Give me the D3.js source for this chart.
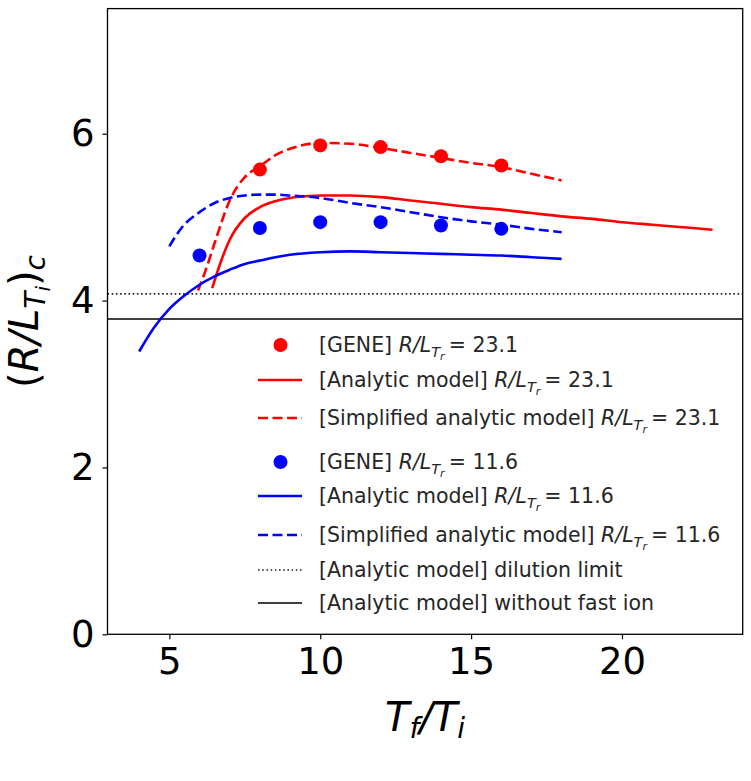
<!DOCTYPE html>
<html>
<head>
<meta charset="utf-8">
<script src="https://cdn.jsdelivr.net/npm/d3@7"></script>
<style>
  body { margin: 0; background: #fff; }
  svg { font-family: "DejaVu Sans", sans-serif; }
</style>
</head>
<body>
<div id="chart"></div>
<script>
// ---- data ----
const geneX = [6, 8, 10, 12, 14, 16];
const gene231 = [null, 5.57, 5.86, 5.84, 5.73, 5.62];
const gene116 = [4.54, 4.87, 4.94, 4.94, 4.90, 4.86];

const anaX231 = [6.42, 6.7, 7, 7.5, 8, 8.5, 9, 9.5, 10, 11, 12, 13, 14, 15, 16, 17, 18, 19, 20, 21, 22, 23];
const anaY231 = [4.15, 4.46, 4.73, 4.99, 5.12, 5.19, 5.23, 5.25, 5.26, 5.26, 5.24, 5.20, 5.16, 5.12, 5.09, 5.05, 5.01, 4.98, 4.94, 4.91, 4.88, 4.85];

const simX231 = [5.95, 6.2, 6.5, 7, 7.5, 8, 8.5, 9, 9.5, 10, 11, 12, 13, 14, 15, 16, 17, 18];
const simY231 = [4.12, 4.36, 4.69, 5.20, 5.48, 5.61, 5.74, 5.82, 5.87, 5.89, 5.88, 5.83, 5.77, 5.71, 5.65, 5.60, 5.52, 5.44];

const anaX116 = [4, 4.5, 5, 5.5, 6, 6.5, 7, 7.5, 8, 9, 10, 11, 12, 13, 14, 15, 16, 17, 18];
const anaY116 = [3.39, 3.68, 3.90, 4.06, 4.19, 4.29, 4.37, 4.44, 4.48, 4.55, 4.58, 4.59, 4.58, 4.57, 4.56, 4.55, 4.54, 4.52, 4.50];

const simX116 = [5, 5.4, 6, 6.5, 7, 7.5, 8, 8.5, 9, 10, 11, 12, 13, 14, 15, 16, 17, 18];
const simY116 = [4.65, 4.87, 5.06, 5.17, 5.23, 5.26, 5.27, 5.27, 5.26, 5.23, 5.17, 5.12, 5.06, 5.00, 4.95, 4.91, 4.86, 4.82];

const dilutionLimit = 4.08;
const noFastIon = 3.78;

const xTicks = [5, 10, 15, 20];
const yTicks = [0, 2, 4, 6];

// ---- layout ----
const width = 751;
const height = 781;
const LEFT = 107.5, RIGHT = 742.7, TOP = 8.6, BOTTOM = 634.3;

const RED = "#ff0000";
const BLUE = "#0000ff";
const LINE_W = 2.6;
const DASH = "10,4.5";
const LEG_FS = 20.5;

const svg = d3.select("#chart").append("svg")
  .attr("width", width)
  .attr("height", height);

const x = d3.scaleLinear().domain([2.95, 24.0]).range([LEFT, RIGHT]);
const y = d3.scaleLinear().domain([0, 7.5]).range([BOTTOM, TOP]);

const line = d3.line()
  .x(d => x(d[0]))
  .y(d => y(d[1]))
  .curve(d3.curveMonotoneX);

const zip = (xs, ys) => xs.map((v, i) => [v, ys[i]]).filter(d => d[1] != null);

const plot = svg.append("g");

// horizontal reference lines
plot.append("line")
  .attr("x1", LEFT).attr("x2", RIGHT)
  .attr("y1", y(dilutionLimit)).attr("y2", y(dilutionLimit))
  .attr("stroke", "#222").attr("stroke-width", 1.6)
  .attr("stroke-dasharray", "1.6,2.6");

plot.append("line")
  .attr("x1", LEFT).attr("x2", RIGHT)
  .attr("y1", y(noFastIon)).attr("y2", y(noFastIon))
  .attr("stroke", "#000").attr("stroke-width", 1.6);

// model curves
const curves = [
  { xs: anaX231, ys: anaY231, color: RED, dash: null },
  { xs: simX231, ys: simY231, color: RED, dash: DASH },
  { xs: anaX116, ys: anaY116, color: BLUE, dash: null },
  { xs: simX116, ys: simY116, color: BLUE, dash: DASH }
];

curves.forEach(c => {
  plot.append("path")
    .attr("d", line(zip(c.xs, c.ys)))
    .attr("fill", "none")
    .attr("stroke", c.color)
    .attr("stroke-width", LINE_W)
    .attr("stroke-dasharray", c.dash);
});

// GENE points
[[gene231, RED], [gene116, BLUE]].forEach(([vals, color]) => {
  plot.append("g")
    .selectAll("circle")
    .data(zip(geneX, vals))
    .enter()
    .append("circle")
    .attr("cx", d => x(d[0]))
    .attr("cy", d => y(d[1]))
    .attr("r", 7)
    .attr("fill", color);
});

// axes
const xAxis = svg.append("g")
  .attr("transform", `translate(0,${BOTTOM})`)
  .call(d3.axisBottom(x).tickValues(xTicks).tickSize(5).tickPadding(8).tickFormat(d3.format("d")));
const yAxis = svg.append("g")
  .attr("transform", `translate(${LEFT},0)`)
  .call(d3.axisLeft(y).tickValues(yTicks).tickSize(5).tickPadding(8).tickFormat(d3.format("d")));

[xAxis, yAxis].forEach(a => {
  a.select(".domain").remove();
  a.selectAll(".tick line").attr("stroke", "#000").attr("stroke-width", 1.2);
  a.selectAll(".tick text")
    .attr("fill", "#000")
    .style("font-family", "DejaVu Sans")
    .style("font-size", "37px");
});

// frame
svg.append("rect")
  .attr("x", LEFT).attr("y", TOP)
  .attr("width", RIGHT - LEFT).attr("height", BOTTOM - TOP)
  .attr("fill", "none").attr("stroke", "#000").attr("stroke-width", 1.3);

// math-like text helper: segments of {t, it, dy, fs}
function mathText(sel, segs, baseSize) {
  segs.forEach(s => {
    sel.append("tspan")
      .attr("dy", s.dy || 0)
      .style("font-style", s.it ? "italic" : "normal")
      .style("font-size", (s.fs || baseSize) + "px")
      .text(s.t);
  });
}

// axis labels
const xl = svg.append("text")
  .attr("x", (LEFT + RIGHT) / 2)
  .attr("y", 731)
  .attr("text-anchor", "middle")
  .attr("fill", "#000");
mathText(xl, [
  { t: "T", it: true },
  { t: "f", it: true, fs: 28, dy: 7 },
  { t: "/", it: true, dy: -7 },
  { t: "T", it: true },
  { t: "i", it: true, fs: 28, dy: 7 }
], 40);

const yl = svg.append("text")
  .attr("transform", `translate(38,${(TOP + BOTTOM) / 2}) rotate(-90)`)
  .attr("text-anchor", "middle")
  .attr("fill", "#000");
mathText(yl, [
  { t: "(" },
  { t: "R", it: true },
  { t: "/", it: true },
  { t: "L", it: true },
  { t: "T", it: true, fs: 28, dy: 7 },
  { t: "i", it: true, fs: 20, dy: 5 },
  { t: ")", dy: -12 },
  { t: "c", it: true, fs: 28, dy: 7 }
], 40);

// legend
const legendRows = [
  { kind: "dot", color: RED, label: "[GENE] ", value: "23.1", y: 345 },
  { kind: "line", color: RED, dash: null, label: "[Analytic model] ", value: "23.1", y: 380 },
  { kind: "line", color: RED, dash: DASH, label: "[Simplified analytic model] ", value: "23.1", y: 418 },
  { kind: "dot", color: BLUE, label: "[GENE] ", value: "11.6", y: 462 },
  { kind: "line", color: BLUE, dash: null, label: "[Analytic model] ", value: "11.6", y: 496 },
  { kind: "line", color: BLUE, dash: DASH, label: "[Simplified analytic model] ", value: "11.6", y: 535 },
  { kind: "line", color: "#222", dash: "1.6,2.6", width: 1.4, label: "[Analytic model] dilution limit", value: null, y: 570 },
  { kind: "line", color: "#000", dash: null, width: 1.6, label: "[Analytic model] without fast ion", value: null, y: 603 }
];

const legend = svg.append("g");
legendRows.forEach(r => {
  if (r.kind === "dot") {
    legend.append("circle")
      .attr("cx", 280.5).attr("cy", r.y).attr("r", 7).attr("fill", r.color);
  } else {
    legend.append("line")
      .attr("x1", 258).attr("x2", 302)
      .attr("y1", r.y).attr("y2", r.y)
      .attr("stroke", r.color)
      .attr("stroke-width", r.width || LINE_W)
      .attr("stroke-dasharray", r.dash);
  }
  const t = legend.append("text")
    .attr("x", 319)
    .attr("y", r.y + 7)
    .attr("fill", "#262626");
  if (r.value) {
    mathText(t, [
      { t: r.label },
      { t: "R", it: true },
      { t: "/", it: true },
      { t: "L", it: true },
      { t: "T", it: true, fs: 14.5, dy: 4.5 },
      { t: "r", it: true, fs: 11, dy: 3 },
      { t: "\u2009= " + r.value, dy: -7.5 }
    ], LEG_FS);
  } else {
    mathText(t, [{ t: r.label }], LEG_FS);
  }
});
</script>
</body>
</html>
